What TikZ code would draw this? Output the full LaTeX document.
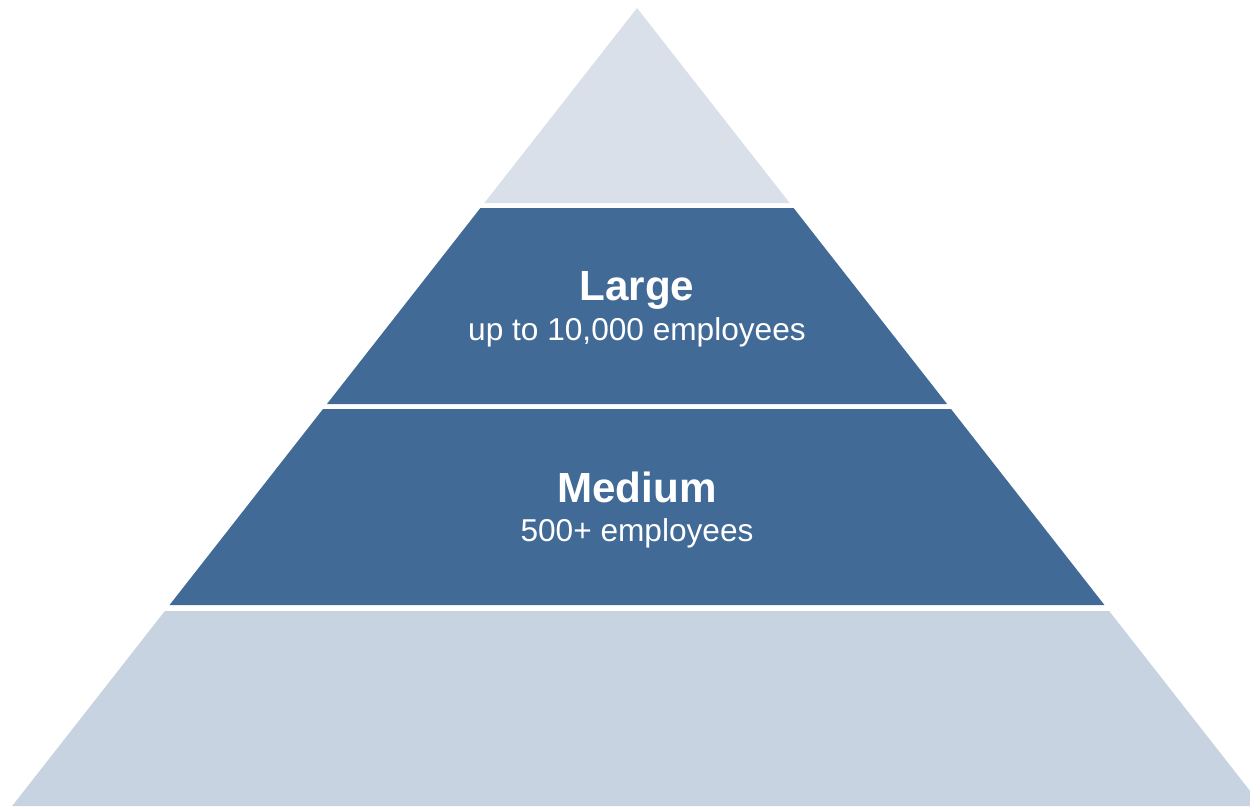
\documentclass[tikz,border=0pt]{standalone}
\usepackage{fontspec}
\setmainfont{Liberation Sans}
\definecolor{tierlight}{HTML}{DAE0EA}
\definecolor{tierdark}{HTML}{416A97}
\definecolor{tierbase}{HTML}{C7D3E1}
\tikzset{
        % Title of a tier
        tier_title/.style={anchor=base, text=white, font=\bfseries\fontsize{24}{28}\selectfont, inner sep=0pt},
        % Size line under the title
        tier_note/.style={anchor=base, text=white, font=\fontsize{18}{21}\selectfont, inner sep=0pt}
}
% slab of the pyramid between two heights (in px), apex at (637,8)
\newcommand{\tierband}[3]{%
  \pgfmathsetmacro{\ta}{0.783*(#1-8)}%
  \pgfmathsetmacro{\tb}{0.783*(#2-8)}%
  \fill[#3] (637-\ta,#1) -- (637+\ta,#1) -- (637+\tb,#2) -- (637-\tb,#2) -- cycle;%
}
\begin{document}
\begin{tikzpicture}[x=0.02cm, y=-0.02cm]
    \useasboundingbox (0,0) rectangle (1250,806);
    \clip (0,0) rectangle (1250,806);
    \tierband{8}{203}{tierlight}
    \tierband{208}{404}{tierdark}
    \tierband{409}{605}{tierdark}
    \tierband{611}{806}{tierbase}
    \node[tier_title] (large) at (637,300) {Large};
    \node[tier_note] (large_note) at (637,340) {up to 10,000 employees};
    \node[tier_title] (medium) at (637,502) {Medium};
    \node[tier_note] (medium_note) at (637,541) {500+ employees};
\end{tikzpicture}
\end{document}
